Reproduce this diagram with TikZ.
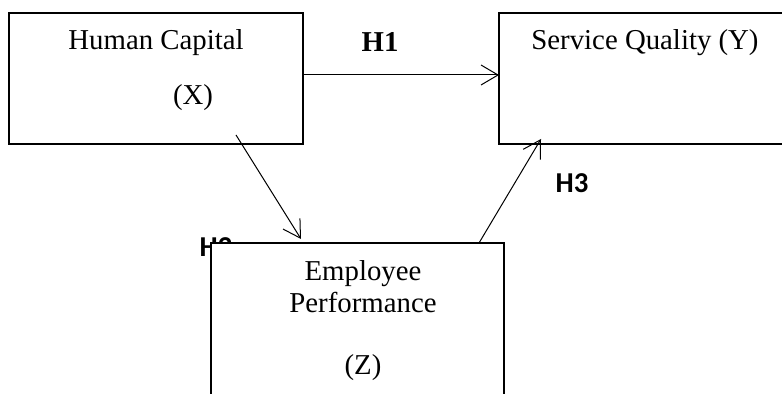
\documentclass[tikz,border=0pt]{standalone}
\usepackage{fontspec}
\setmainfont{Liberation Serif}
\newfontfamily\hfont{Carlito}
\usetikzlibrary{arrows.meta}
\tikzset{
  cadre/.style={draw,line width=1.4pt,fill=white,inner sep=0pt,outer sep=0pt},
  hyp/.style={-{Straight Barb[length=8.5pt,width=10pt]},line width=.5pt},
  txt/.style={anchor=base,inner sep=0pt,font=\fontsize{14.4}{17}\selectfont},
  hlab/.style={anchor=base,inner sep=0pt,font=\hfont\bfseries\fontsize{14.4}{17}\selectfont}
}

\begin{document}
\begin{tikzpicture}[x=.5pt,y=-.5pt,line width=.5pt]
\clip (0,0) rectangle (782,394);
% Cadres (X) et (Y) ; le cadre (Y) sort de la page à droite.
\node[cadre,minimum width=147pt,minimum height=65.5pt] (hc) at (156,78.5) {};
\node[cadre,minimum width=165.5pt,minimum height=65.5pt] (sq) at (664.5,78.5) {};
% H2 est posé avant le cadre (Z), qui le recouvre presque entièrement.
\node[hlab] (h2) at (216,257) {H2};
\node[cadre,minimum width=146.5pt,minimum height=98.5pt] (ep) at (357.5,341.5) {};
\node[txt] (hc-t) at (156,49.5) {Human Capital};
\node[txt] (hc-x) at (193,105) {(X)};
\node[txt] (sq-t) at (645,50) {Service Quality (Y)};
\node[txt] (ep-t1) at (363,281) {Employee};
\node[txt] (ep-t2) at (363,313) {Performance};
\node[txt] (ep-z) at (363,375) {(Z)};
\node[txt] (h1) at (380,52) {\textbf{H1}};
\node[hlab] (h3) at (572,193) {H3};
% Les trois hypothèses.
\draw[hyp] ([yshift=1.75pt]hc.east) -- ([yshift=1.75pt]sq.west);
\draw[hyp] ([shift={(-33.5pt,4.5pt)}]hc.south east) -- ([shift={(45pt,2pt)}]ep.north west);
\draw[hyp] ([xshift=-12.5pt]ep.north east) -- ([shift={(21pt,2.5pt)}]sq.south west);
\end{tikzpicture}
\end{document}
